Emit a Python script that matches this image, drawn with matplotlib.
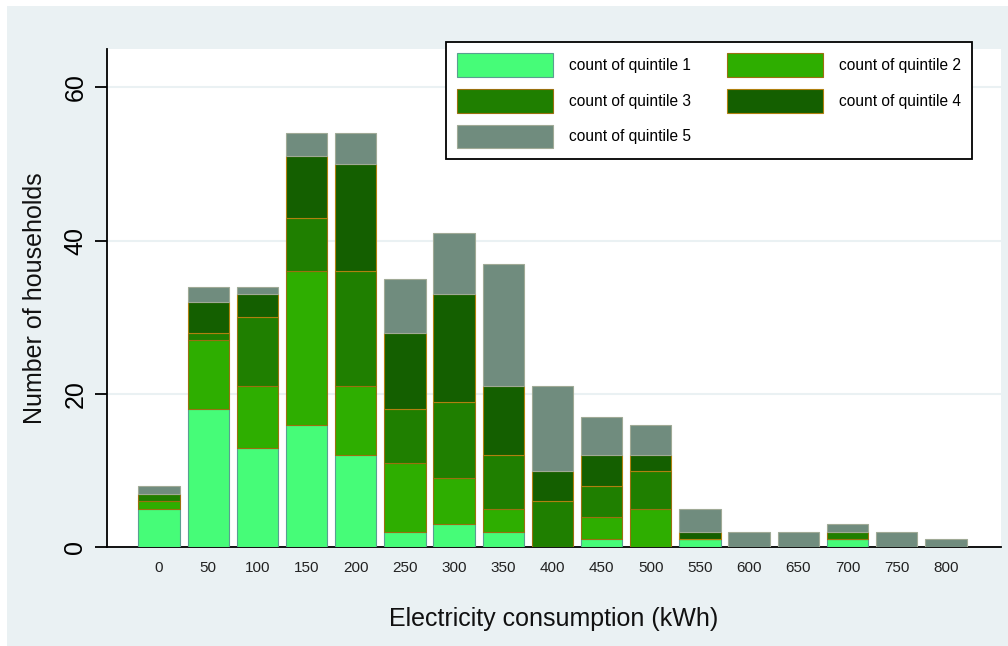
import numpy as np
import matplotlib.pyplot as plt
from matplotlib.patches import Rectangle

plt.rcParams['font.family'] = ['Liberation Sans', 'DejaVu Sans']

# electricity consumption bins (kWh)
bins = [0, 50, 100, 150, 200, 250, 300, 350, 400, 450, 500, 550, 600, 650, 700, 750, 800]
# households per income quintile in each bin
q1 = [5, 18, 13, 16, 12, 2, 3, 2, 0, 1, 0, 1, 0, 0, 1, 0, 0]
q2 = [1, 9, 8, 20, 9, 9, 6, 3, 0, 3, 5, 0, 0, 0, 0, 0, 0]
q3 = [1, 1, 9, 7, 15, 7, 10, 7, 6, 4, 5, 0, 0, 0, 1, 0, 0]
q4 = [0, 4, 3, 8, 14, 10, 14, 9, 4, 4, 2, 1, 0, 0, 0, 0, 0]
q5 = [1, 2, 1, 3, 4, 7, 8, 16, 11, 5, 4, 3, 2, 2, 1, 2, 1]
labels = ["count of quintile 1", "count of quintile 2", "count of quintile 3",
          "count of quintile 4", "count of quintile 5"]

colors = ['#46fc78', '#2eae00', '#1f7f00', '#145f00', '#708c7e']
edges = ['#5a9f90', '#9a7010', '#9a7010', '#b08010', '#a0aa96']

fig = plt.figure(figsize=(10.08, 6.46), dpi=100, facecolor='white')
# light panel behind the graph
fig.patches.append(Rectangle((0.007, -0.01), 1.0, 1.001, transform=fig.transFigure,
                             facecolor='#eaf1f3', edgecolor='none', zorder=-10))
ax = fig.add_axes([0.106, 0.153, 0.887, 0.771])
ax.set_facecolor('white')

series = [q1, q2, q3, q4, q5]
bottom = np.zeros(len(bins))
handles = []
for vals, c, e, lab in zip(series, colors, edges, labels):
    h = ax.bar(bins, vals, width=42, bottom=bottom, color=c, edgecolor=e,
               linewidth=0.8, label=lab, zorder=3)
    handles.append(h)
    bottom += np.array(vals)

ax.set_xlim(-53, 856)
ax.set_ylim(0, 65)
ax.set_xticks(bins)
ax.set_xticklabels([str(b) for b in bins])
ax.set_yticks([0, 20, 40, 60])
ax.yaxis.grid(True, color='#eaf1f3', linewidth=1.5, zorder=0)
ax.set_axisbelow(True)

for s in ['top', 'right']:
    ax.spines[s].set_visible(False)
ax.spines['left'].set_linewidth(1.3)
ax.spines['bottom'].set_linewidth(1.3)

ax.tick_params(axis='x', length=0, pad=10, labelsize=11, colors='#222222')
ax.tick_params(axis='y', length=9, width=1.3, pad=5, labelsize=18, labelrotation=90)
for t in ax.get_yticklabels():
    t.set_va('center')

ax.set_xlabel("Electricity consumption (kWh)", fontsize=18, labelpad=23, color='#111111')
ax.set_ylabel("Number of households", fontsize=18, labelpad=12, color='#111111')

order = [0, 2, 4, 1, 3]
leg = ax.legend([handles[i] for i in order], [labels[i] for i in order],
                ncol=2, loc='upper right', bbox_to_anchor=(0.9675, 1.014),
                borderaxespad=0, fontsize=11.2, handlelength=6.2, handleheight=1.95,
                handletextpad=1.0, labelspacing=0.78, columnspacing=2.3,
                borderpad=0.72, fancybox=False, framealpha=1, edgecolor='black')
leg.get_frame().set_linewidth(1.3)

fig.savefig('out.png', dpi=100, facecolor=fig.get_facecolor())
